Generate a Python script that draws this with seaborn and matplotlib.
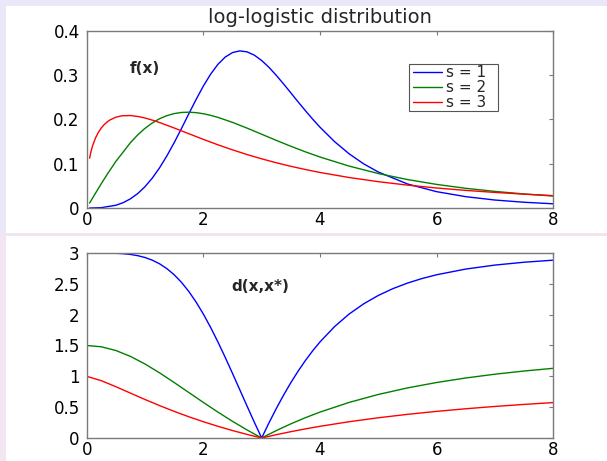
import matplotlib
matplotlib.use('Agg')
import matplotlib.pyplot as plt
from matplotlib.patches import Rectangle
import seaborn as sns
import pandas as pd

x_f1 = [0.05, 0.25, 0.5, 0.625, 0.75, 0.875,
        1.0, 1.125, 1.25, 1.375, 1.5, 1.625, 1.75, 1.875, 2.0, 2.125, 2.25, 2.375,
        2.5, 2.625, 2.75, 2.875, 3.0, 3.125, 3.25, 3.375, 3.5, 3.625, 3.75, 3.875, 4.0,
        4.25, 4.5, 4.75, 5.0, 5.5, 6.0, 6.5, 7.0, 7.5, 8.0]
f_s1 = [0.0, 0.0008, 0.0062, 0.0120, 0.0207, 0.0326,
        0.0482, 0.0676, 0.0909, 0.1178, 0.1476, 0.1796, 0.2126, 0.2450, 0.2755, 0.3024,
        0.3246, 0.3410, 0.3512, 0.3550, 0.3528, 0.3453, 0.3333, 0.3179, 0.2999, 0.2804,
        0.2602, 0.2398, 0.2199, 0.2007, 0.1826,
        0.1500, 0.1224, 0.0997, 0.0813, 0.0543, 0.0369, 0.0256, 0.0180, 0.0130, 0.0095]

x_f2 = [0.05, 0.15, 0.25, 0.35, 0.5, 0.75, 0.875,
        1.0, 1.125, 1.25, 1.375, 1.5, 1.625, 1.75, 1.875, 2.0, 2.125, 2.25,
        2.5, 2.75, 3.0, 3.25, 3.5, 3.75, 4.0,
        4.5, 5.0, 5.5, 6.0, 6.5, 7.0, 7.5, 8.0]
f_s2 = [0.0111, 0.0332, 0.0548, 0.0757, 0.1052, 0.1476, 0.1652,
        0.1800, 0.1922, 0.2017, 0.2087, 0.2133, 0.2159, 0.2165, 0.2155, 0.2130, 0.2094, 0.2048,
        0.1935, 0.1805, 0.1667, 0.1529, 0.1395, 0.1269, 0.1152,
        0.0947, 0.0779, 0.0643, 0.0533, 0.0445, 0.0375, 0.0317, 0.0270]

x_f3 = [0.05, 0.075, 0.1, 0.15, 0.2, 0.25, 0.3, 0.35, 0.4, 0.5, 0.6, 0.75, 0.9, 1.0,
        1.125, 1.25, 1.5, 1.75, 2.0, 2.25, 2.5, 2.75, 3.0, 3.25, 3.5, 3.75, 4.0,
        4.5, 5.0, 5.5, 6.0, 6.5, 7.0, 7.5, 8.0]
f_s3 = [0.1126, 0.1281, 0.1400, 0.1579, 0.1709, 0.1807, 0.1884, 0.1944, 0.1990, 0.2052,
        0.2083, 0.2090, 0.2063, 0.2033, 0.1986, 0.1931,
        0.1808, 0.1679, 0.1551, 0.1428, 0.1314, 0.1208, 0.1111, 0.1023, 0.0942, 0.0870, 0.0803,
        0.0689, 0.0595, 0.0517, 0.0452, 0.0398, 0.0352, 0.0313, 0.0279]

x_d1 = [0, 0.25, 0.5, 0.625, 0.75, 0.875,
        1.0, 1.125, 1.25, 1.375, 1.5, 1.625, 1.75, 1.875, 2.0, 2.125, 2.25, 2.375,
        2.5, 2.625, 2.75, 2.875, 3.0, 3.125, 3.25, 3.375, 3.5, 3.625, 3.75, 3.875, 4.0,
        4.25, 4.5, 4.75, 5.0, 5.25, 5.5, 5.75, 6.0, 6.5, 7.0, 7.5, 8.0]
d_s1 = [3.0, 2.9997, 2.9954, 2.9887, 2.9767, 2.9569,
        2.9268, 2.8837, 2.8245, 2.7464, 2.6471, 2.5245, 2.3774, 2.2057, 2.0103, 1.7933,
        1.5579, 1.3079, 1.0479, 0.7827, 0.5169, 0.2547, 0.0, 0.2444, 0.4762, 0.6939,
        0.8967, 1.0842, 1.2565, 1.4142, 1.5579,
        1.8066, 2.0103, 2.1764, 2.3116, 2.4219, 2.5121, 2.5861, 2.6471, 2.7396, 2.8042,
        2.8502, 2.8837]

x_d23 = [0, 0.25, 0.5, 0.75, 1.0, 1.25, 1.5, 1.75, 2.0, 2.25, 2.5, 2.75, 3.0,
         3.25, 3.5, 3.75, 4.0, 4.5, 5.0, 5.5, 6.0, 6.5, 7.0, 7.5, 8.0]
d_s2 = [1.5, 1.4793, 1.4189, 1.3235, 1.2, 1.0562, 0.9, 0.7383, 0.5769, 0.42,
        0.2705, 0.1302, 0.0, 0.1198, 0.2294, 0.3293, 0.42, 0.5769, 0.7059, 0.8121,
        0.9, 0.9732, 1.0345, 1.0862, 1.1301]
d_s3 = [1.0, 0.9298, 0.832, 0.7279, 0.6245, 0.5253, 0.4318, 0.3446, 0.2639,
        0.1895, 0.121, 0.0579, 0.0, 0.0533, 0.1024, 0.1477, 0.1895, 0.2639,
        0.328, 0.3834, 0.4318, 0.4742, 0.5116, 0.5447, 0.5743]

labels = ['s = 1', 's = 2', 's = 3']
colors = ['#0000ff', '#008000', '#ff0000']
x_ticks = [0, 2, 4, 6, 8]
top_ticks = [0, 0.1, 0.2, 0.3, 0.4]
top_ticklabels = ['0', '0.1', '0.2', '0.3', '0.4']
bottom_ticks = [0, 0.5, 1, 1.5, 2, 2.5, 3]
bottom_ticklabels = ['0', '0.5', '1', '1.5', '2', '2.5', '3']


def long_table(xs, series):
    """
    Puts the three curves of one panel in one long table for seaborn.
    """
    frames = [pd.DataFrame({'x': x, 'y': y, 's': lab}) for x, y, lab in zip(xs, series, labels)]
    return pd.concat(frames, ignore_index=True)


def style_axes(ax, yticks, yticklabels, ymax):
    # matlab like box with inward ticks on all sides
    ax.set_xlim(0, 8)
    ax.set_ylim(0, ymax)
    ax.set_xticks(x_ticks)
    ax.set_xticklabels([str(t) for t in x_ticks])
    ax.set_yticks(yticks)
    ax.set_yticklabels(yticklabels)
    ax.set_xlabel('')
    ax.set_ylabel('')
    ax.tick_params(direction='in', top=True, right=True, length=3, width=0.8,
                   color='#7a7a7a', labelsize=12, labelcolor='black')
    ax.tick_params(axis='x', pad=2.5)
    ax.tick_params(axis='y', pad=5)
    for sp in ax.spines.values():
        sp.set_visible(True)
        sp.set_color('#7a7a7a')
        sp.set_linewidth(1.0)


sns.set_style('white')
plt.rcParams['font.family'] = ['DejaVu Sans']

fig = plt.figure(figsize=(6.07, 4.61), dpi=100)
fig.patch.set_facecolor('#e9e7f8')
# white panels behind the two plots, pink strip on the lower left
fig.patches.append(Rectangle((0, 0), 0.0099, 0.488, transform=fig.transFigure,
                             facecolor='#f3e6f3', edgecolor='none', zorder=-2))
fig.patches.append(Rectangle((0, 0.488), 1, 0.0065, transform=fig.transFigure,
                             facecolor='#f1e5f2', edgecolor='none', zorder=-2))
fig.patches.append(Rectangle((0.0099, 0.4945), 1, 0.4925, transform=fig.transFigure,
                             facecolor='white', edgecolor='none', zorder=-1))
fig.patches.append(Rectangle((0.0099, 0), 1, 0.488, transform=fig.transFigure,
                             facecolor='white', edgecolor='none', zorder=-1))

ax1 = fig.add_axes([0.1428, 0.5488, 0.7687, 0.384])
ax2 = fig.add_axes([0.1428, 0.0499, 0.7687, 0.4013])

top = long_table([x_f1, x_f2, x_f3], [f_s1, f_s2, f_s3])
bottom = long_table([x_d1, x_d23, x_d23], [d_s1, d_s2, d_s3])

sns.lineplot(data=top, x='x', y='y', hue='s', palette=colors, linewidth=1.0,
             ax=ax1, legend=True)
sns.lineplot(data=bottom, x='x', y='y', hue='s', palette=colors, linewidth=1.0,
             ax=ax2, legend=False)

style_axes(ax1, top_ticks, top_ticklabels, 0.4)
style_axes(ax2, bottom_ticks, bottom_ticklabels, 3)

ax1.set_title('log-logistic distribution', fontsize=14, pad=6)
ax1.text(0.745, 0.316, 'f(x)', fontsize=11, fontweight='bold', va='center', ha='left')
ax2.text(2.485, 2.45, 'd(x,x*)', fontsize=11, fontweight='bold', va='center', ha='left')

# legend entries without frame, the square matlab box is drawn separately
handles, labs = ax1.get_legend_handles_labels()
leg = ax1.legend(handles, labs, loc='upper left', bbox_to_anchor=(0.699, 0.808),
                 fontsize=11, frameon=False, borderpad=0, labelspacing=0,
                 handlelength=1.9, handletextpad=0.25, borderaxespad=0)
ax1.add_patch(Rectangle((0.6907, 0.548), 0.1908, 0.2656, transform=ax1.transAxes,
                        facecolor='white', edgecolor='#555555', linewidth=0.8, zorder=4))

fig.savefig('out.png', dpi=100, facecolor=fig.get_facecolor())
